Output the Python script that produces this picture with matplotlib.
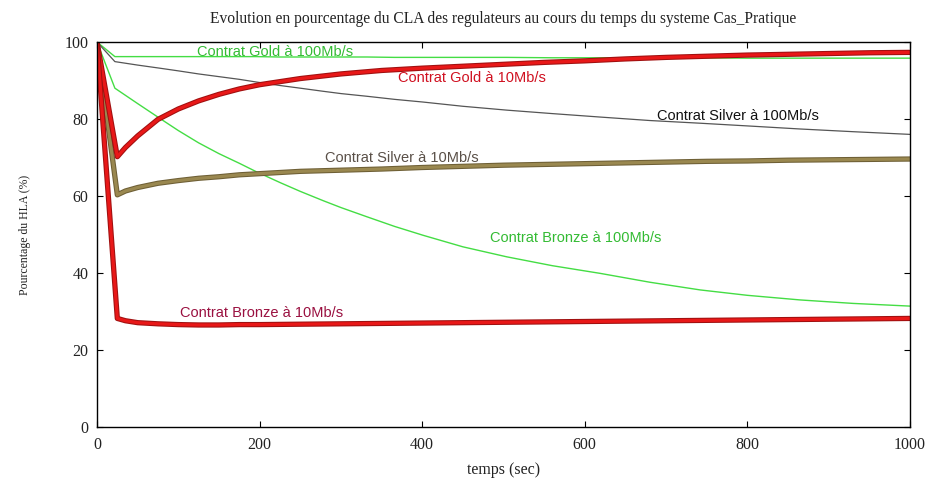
import matplotlib
matplotlib.use("Agg")
import matplotlib.pyplot as plt

# temps (sec) pour les courbes a 10Mb/s
t10 = [0, 25, 35, 50, 75, 100, 125, 150, 175, 200, 250, 300, 350, 400, 450,
       500, 550, 600, 650, 700, 750, 800, 850, 900, 950, 1000]

gold10 = [100, 70.2, 72.6, 75.6, 79.9, 82.6, 84.7, 86.4, 87.8, 88.9, 90.5,
          91.7, 92.6, 93.2, 93.7, 94.2, 94.7, 95.1, 95.6, 96.0, 96.3, 96.6,
          96.8, 97.0, 97.2, 97.3]
silver10 = [100, 60.3, 61.3, 62.2, 63.3, 64.0, 64.6, 65.0, 65.5, 65.8, 66.4,
            66.7, 67.0, 67.4, 67.7, 68.0, 68.2, 68.4, 68.6, 68.8, 69.0, 69.1,
            69.3, 69.4, 69.5, 69.6]
bronze10 = [100, 28.2, 27.6, 27.1, 26.8, 26.6, 26.5, 26.5, 26.6, 26.6, 26.7,
            26.8, 26.9, 27.0, 27.1, 27.2, 27.3, 27.4, 27.5, 27.6, 27.7, 27.8,
            27.9, 28.0, 28.1, 28.2]

# temps (sec) pour les courbes a 100Mb/s
t100 = [0, 22, 50, 77, 100, 125, 150, 175, 196, 225, 250, 278, 300, 332, 366,
        401, 450, 504, 560, 619, 680, 742, 800, 865, 930, 1000]

gold100 = [100, 96.2, 96.2, 96.2, 96.2, 96.2, 96.2, 96.2, 96.2, 96.1, 96.1,
           96.1, 96.1, 96.1, 96.0, 96.0, 96.0, 96.0, 95.9, 95.9, 95.9, 95.9,
           95.8, 95.8, 95.8, 95.8]
silver100 = [100, 94.9, 94.0, 93.2, 92.5, 91.7, 91.0, 90.3, 89.6, 88.7, 88.0,
             87.2, 86.6, 85.9, 85.1, 84.4, 83.3, 82.3, 81.4, 80.5, 79.6, 78.9,
             78.2, 77.4, 76.7, 76.0]
bronze100 = [100, 88.0, 84.0, 80.2, 77.0, 73.8, 71.0, 68.5, 66.3, 63.5, 61.2,
             58.8, 57.0, 54.6, 52.1, 49.8, 46.8, 44.2, 41.9, 39.9, 37.6, 35.6,
             34.2, 33.0, 32.1, 31.4]

serif = "Liberation Serif"
sans = "Liberation Sans"

fig = plt.figure(figsize=(9.3, 4.82), dpi=100)
ax = fig.add_axes([0.1043, 0.1141, 0.8742, 0.7988])

# courbes a 100Mb/s (traits fins)
ax.plot(t100, gold100, color="#44dd44", lw=1.0)
ax.plot(t100, silver100, color="#555555", lw=0.9)
ax.plot(t100, bronze100, color="#44dd44", lw=1.0)

# courbes a 10Mb/s (traits epais)
ax.plot(t10, silver10, color="#6e5f35", lw=3.8)
ax.plot(t10, silver10, color="#9a8850", lw=2.3)
ax.plot(t10, gold10, color="#a01010", lw=3.8)
ax.plot(t10, gold10, color="#e81818", lw=2.3)
ax.plot(t10, bronze10, color="#a01010", lw=3.8)
ax.plot(t10, bronze10, color="#e81818", lw=2.3)

fs = 10.5
ax.text(123, 97.4, "Contrat Gold à 100Mb/s", color="#33bb33", fontsize=fs,
        family=sans, va="center")
ax.text(370, 90.6, "Contrat Gold à 10Mb/s", color="#d01020", fontsize=fs,
        family=sans, va="center")
ax.text(689, 80.8, "Contrat Silver à 100Mb/s", color="#111111", fontsize=fs,
        family=sans, va="center")
ax.text(280, 69.9, "Contrat Silver à 10Mb/s", color="#5a5048", fontsize=fs,
        family=sans, va="center")
ax.text(483, 49.1, "Contrat Bronze à 100Mb/s", color="#33bb33", fontsize=fs,
        family=sans, va="center")
ax.text(102, 29.6, "Contrat Bronze à 10Mb/s", color="#9a1040", fontsize=fs,
        family=sans, va="center")

ax.set_xlim(0, 1000)
ax.set_ylim(0, 100)
ax.set_xticks(range(0, 1001, 200))
ax.set_yticks(range(0, 101, 20))
ax.tick_params(direction="in", top=True, right=True, length=4.5, width=0.8,
               labelsize=11.5, labelcolor="#222222")
for lab in ax.get_xticklabels() + ax.get_yticklabels():
    lab.set_family(serif)
ax.tick_params(axis="x", pad=7)
ax.tick_params(axis="y", pad=6)
for s in ax.spines.values():
    s.set_linewidth(1.0)

ax.set_xlabel("temps (sec)", family=serif, fontsize=11.5, labelpad=7,
              color="#222222")
ax.set_ylabel("Pourcentage du HLA (%)", family=serif, fontsize=8.5, labelpad=24,
              color="#222222")
ax.set_title("Evolution en pourcentage du CLA des regulateurs au cours du temps du systeme Cas_Pratique",
             family=serif, fontsize=11.2, pad=14, color="#222222")

fig.savefig("out.png", dpi=100)
